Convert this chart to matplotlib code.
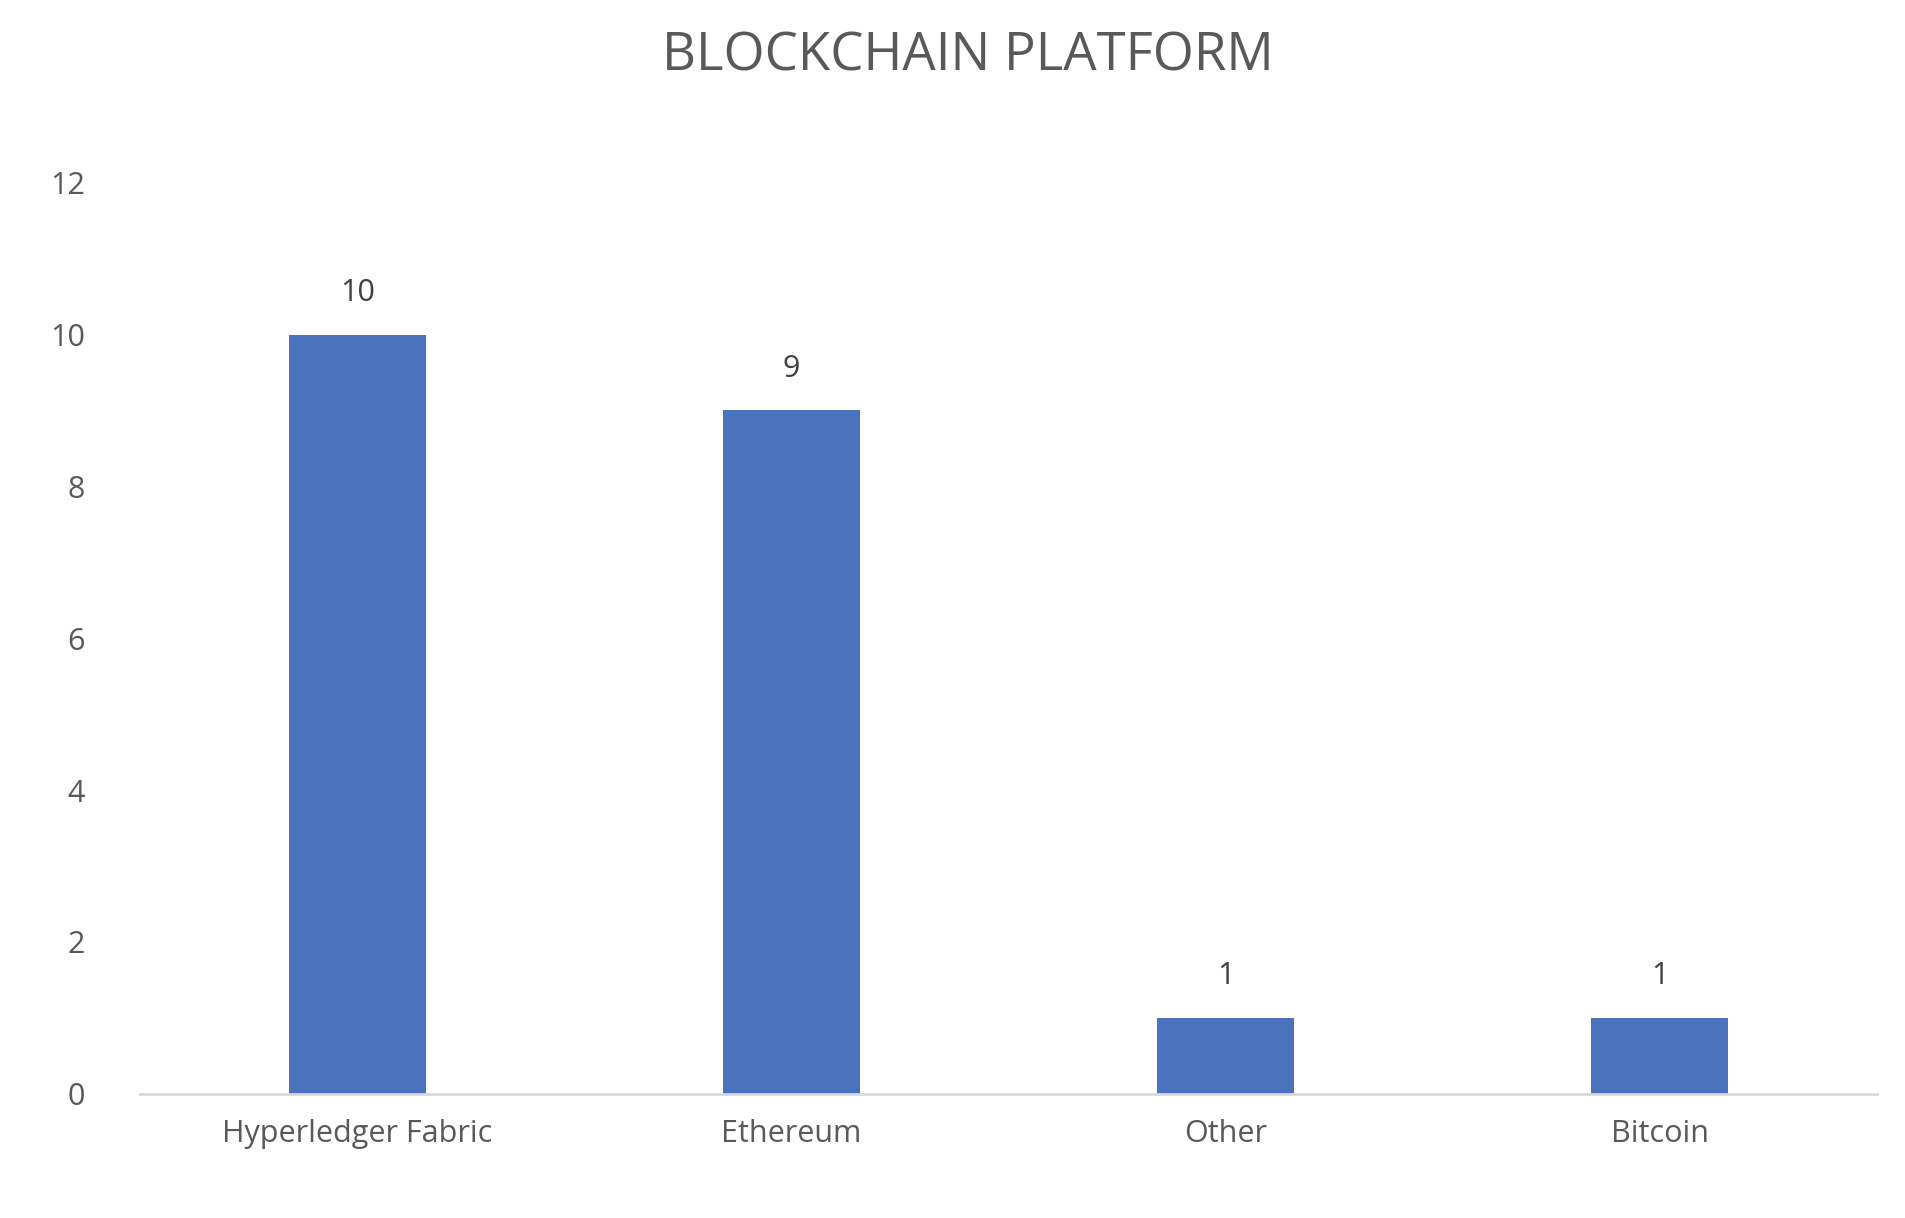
import matplotlib
matplotlib.use("Agg")
import matplotlib.pyplot as plt

categories = ["Hyperledger Fabric", "Ethereum", "Other", "Bitcoin"]
values = [10, 9, 1, 1]
yticks = [0, 2, 4, 6, 8, 10, 12]

plt.rcParams['font.family'] = ['Open Sans', 'DejaVu Sans']
fig = plt.figure(figsize=(19.06, 12.18), dpi=100)
ax = fig.add_axes([0.0737, 0.102, 0.911, 0.748])
x = range(len(categories))
bars = ax.bar(x, values, width=0.315, color="#4a72bd", zorder=2)
for xi, v in zip(x, values):
    ax.text(xi, v + 0.35, str(v), ha="center", va="bottom", fontsize=22, color="#404040")
ax.set_xlim(-0.5, 3.5)
ax.set_ylim(0, 12)
ax.set_yticks(yticks)
ax.set_xticks(list(x))
ax.set_xticklabels(categories)
ax.tick_params(axis="both", length=0, labelsize=22, labelcolor="#595959")
ax.tick_params(axis="x", pad=18)
ax.tick_params(axis="y", pad=40)
for s in ["top", "right", "left"]:
    ax.spines[s].set_visible(False)
ax.spines["bottom"].set_color("#d9d9d9")
ax.spines["bottom"].set_linewidth(2)
fig.text(0.508, 0.953, "BLOCKCHAIN PLATFORM", ha="center", va="center", fontsize=38, color="#595959")
fig.savefig("out.png", dpi=100)
